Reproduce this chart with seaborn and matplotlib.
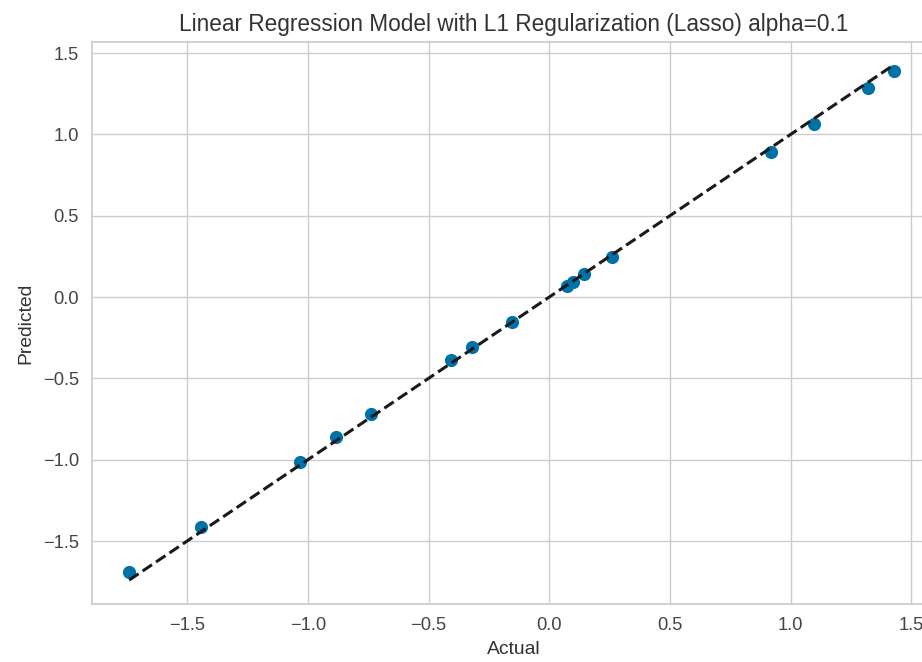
import numpy as np
import pandas as pd
import seaborn as sns
import matplotlib
matplotlib.use("Agg")
import matplotlib.pyplot as plt

# values
actual = [-1.740, -1.442, -1.033, -0.884, -0.739, -0.405, -0.322, -0.153,
          0.075, 0.099, 0.145, 0.261, 0.917, 1.095, 1.319, 1.430]
predicted = [-1.691, -1.414, -1.012, -0.859, -0.717, -0.389, -0.309, -0.154,
             0.068, 0.092, 0.141, 0.246, 0.892, 1.064, 1.286, 1.390]
x_ticks = [-1.5, -1.0, -0.5, 0.0, 0.5, 1.0, 1.5]
y_ticks = [-1.5, -1.0, -0.5, 0.0, 0.5, 1.0, 1.5]

df = pd.DataFrame({"Actual": actual, "Predicted": predicted})

sns.set_theme(style="whitegrid")
plt.rcParams['font.family'] = ['Liberation Sans', 'DejaVu Sans']
plt.rcParams['axes.unicode_minus'] = True

fig = plt.figure(figsize=(9.22, 6.62), dpi=100)
ax = fig.add_axes([92 / 922, 58 / 662, 843.5 / 922, 562 / 662])

sns.scatterplot(data=df, x="Actual", y="Predicted", ax=ax, color="#0072A8",
                s=90, linewidth=0, zorder=3)

lo, hi = min(actual), max(actual)
ax.plot([lo, hi], [lo, hi], 'k--', lw=2.2, zorder=4)

ax.set_xlim(-1.894, 1.6)
ax.set_ylim(-1.887, 1.568)
ax.set_xticks(x_ticks)
ax.set_yticks(y_ticks)
ax.tick_params(labelsize=13.2, colors='#444444')
ax.set_xlabel("Actual", fontsize=13.9, color='#333333', labelpad=5)
ax.set_ylabel("Predicted", fontsize=13.9, color='#333333', labelpad=6)
ax.set_title("Linear Regression Model with L1 Regularization (Lasso) alpha=0.1",
             fontsize=16.3, color='#333333', pad=8)

fig.savefig("out.png", dpi=100)
